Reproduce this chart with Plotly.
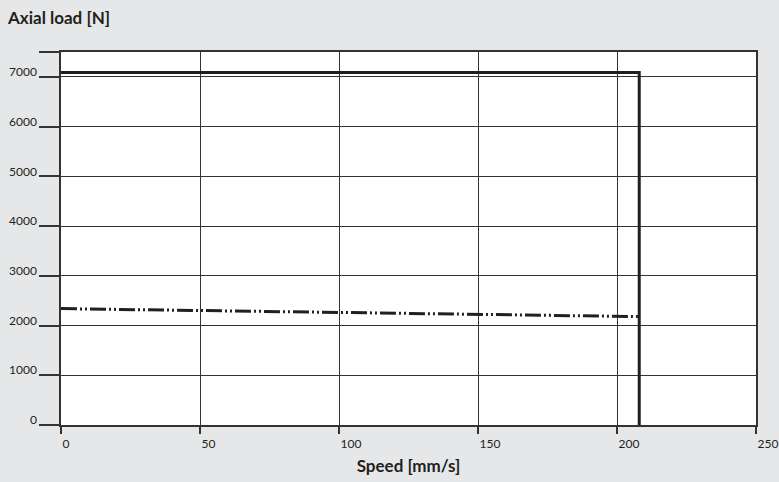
import plotly.graph_objects as go

# Data
solid_x = [0, 208, 208]
solid_y = [7090, 7090, 0]
dash_x = [0, 208]
dash_y = [2340, 2180]

x_ticks = [0, 50, 100, 150, 200, 250]
x_ticktext = ["0", "50", "100", "150", "200", "250"]
y_ticks = [0, 1000, 2000, 3000, 4000, 5000, 6000, 7000, 7500]
y_ticktext = ["0", "1000", "2000", "3000", "4000", "5000", "6000", "7000", ""]

INK = "#231f20"
GRID = "#333333"
FONT = "Lato"

fig = go.Figure()
fig.add_trace(go.Scatter(x=dash_x, y=dash_y, mode="lines",
                         line=dict(color=INK, width=3, dash="16px,3px,2px,3px,2px,3px"),
                         showlegend=False, hoverinfo="skip"))
fig.add_trace(go.Scatter(x=solid_x, y=solid_y, mode="lines",
                         line=dict(color=INK, width=3),
                         showlegend=False, hoverinfo="skip"))

fig.update_layout(
    width=779, height=482,
    paper_bgcolor="#e6e7e8", plot_bgcolor="#ffffff",
    margin=dict(l=61, r=23, t=52, b=57),
    font=dict(family=FONT, color=INK, size=12),
    title=dict(text="<b>Axial load [N]</b>", x=8/779, xanchor="left",
               xref="container", yref="container", y=1-18/482, yanchor="middle",
               font=dict(family=FONT, size=17, color=INK)),
)
fig.update_xaxes(
    range=[0, 250], tickvals=x_ticks, ticktext=x_ticktext,
    automargin=False,
    showgrid=True, gridcolor=GRID, gridwidth=1,
    showline=True, linecolor=GRID, linewidth=1.5, mirror=True,
    ticks="outside", ticklen=7, tickcolor=GRID, tickwidth=1.5,
    ticklabelposition="outside right", ticklabelstandoff=7,
    tickfont=dict(family=FONT, size=12, color=INK),
    zeroline=False,
    title=dict(text="<b>Speed [mm/s]</b>", standoff=10,
               font=dict(family=FONT, size=17, color=INK)),
)
fig.update_yaxes(
    range=[0, 7500], tickvals=y_ticks, ticktext=y_ticktext,
    automargin=False,
    showgrid=True, gridcolor=GRID, gridwidth=1,
    showline=True, linecolor=GRID, linewidth=1.5, mirror=True,
    ticks="outside", ticklen=20, tickcolor=GRID, tickwidth=1.5,
    ticklabelposition="outside", ticklabelshift=-5,
    tickfont=dict(family=FONT, size=12, color=INK),
    zeroline=False,
)

fig.write_html("out.html", config={"displayModeBar": False},
               post_script="document.body.style.margin='0';document.body.style.padding='0';")
